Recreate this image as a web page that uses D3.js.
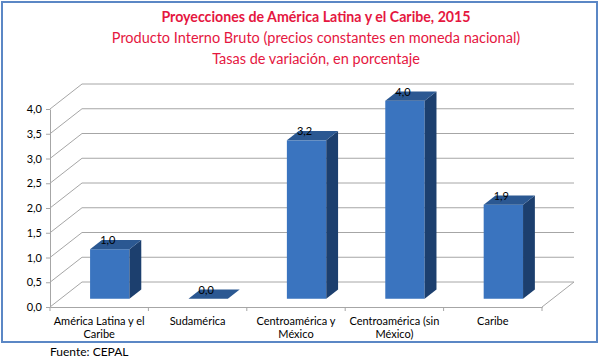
<!DOCTYPE html>
<html><head><meta charset="utf-8">
<script src="https://cdn.jsdelivr.net/npm/d3@7"></script>
<style>body{margin:0;background:#fff}svg{display:block}text{font-family:Lato,"Open Sans",sans-serif}</style>
</head><body>
<svg id="c" width="600" height="360"></svg>
<script>
const categories = [["América Latina y el","Caribe"],["Sudamérica"],["Centroamérica y","México"],["Centroamérica (sin","México)"],["Caribe"]];
const values = [1.0, 0.0, 3.2, 4.0, 1.9];
const yTicks = [0,0.5,1,1.5,2,2.5,3,3.5,4];
const titleLines = ["Proyecciones de América Latina y el Caribe, 2015","Producto Interno Bruto (precios constantes en moneda nacional)","Tasas de variación, en porcentaje"];
const source = "Fuente: CEPAL";

const svg = d3.select("#c");
const fmt = v => d3.format(".1f")(v).replace(".", ",");
const x = d3.scaleBand().domain(d3.range(values.length)).range([50,542]);
const y = d3.scaleLinear().domain([0,4]).range([307,109]);
const D = [32,-25];
const f0 = 0.33, f1 = 0.70;
const grid = "#a6a6a6";

svg.append("rect").attr("x",2).attr("y",2).attr("width",595).attr("height",340)
  .attr("fill","#fff").attr("stroke","#5b87c5").attr("stroke-width",2);

// titles
const tt = [{s:14.2,w:"bold",y:22},{s:14.5,w:"normal",y:43},{s:14.5,w:"normal",y:64}];
titleLines.forEach((t,i)=>{
  svg.append("text").attr("x",316).attr("y",tt[i].y).attr("text-anchor","middle")
    .attr("font-size",tt[i].s).attr("font-weight",tt[i].w).attr("fill","#e5173f").text(t);
});

// walls gridlines
const g = svg.append("g");
yTicks.forEach(t=>{
  g.append("line").attr("x1",50).attr("y1",y(t)).attr("x2",50+D[0]).attr("y2",y(t)+D[1]).attr("stroke",grid);
  g.append("line").attr("x1",50+D[0]).attr("y1",y(t)+D[1]).attr("x2",542+D[0]).attr("y2",y(t)+D[1]).attr("stroke",grid);
});
g.append("line").attr("x1",542).attr("y1",y(0)).attr("x2",542+D[0]).attr("y2",y(0)+D[1]).attr("stroke",grid);

// axes
const ya = svg.append("g").attr("transform","translate(50,0)")
  .call(d3.axisLeft(y).tickValues(yTicks).tickFormat(fmt).tickSize(4).tickSizeOuter(0));
ya.select(".domain").attr("stroke",grid);
ya.selectAll(".tick line").attr("stroke",grid);
ya.selectAll("text").attr("font-size",11).attr("fill","#000").attr("dx",-1);

const xa = svg.append("g").attr("transform",`translate(0,${y(0)})`)
  .call(d3.axisBottom(x).tickValues([]).tickSizeOuter(0));
xa.select(".domain").attr("stroke",grid);
d3.range(values.length+1).forEach(i=>{
  const xx = 50 + i*x.step();
  xa.append("line").attr("x1",xx).attr("x2",xx).attr("y1",0).attr("y2",4).attr("stroke",grid);
});
categories.forEach((c,i)=>{
  const t = svg.append("text").attr("x",x(i)+x.bandwidth()/2).attr("y",325).attr("text-anchor","middle")
    .attr("font-size",11).attr("fill","#000");
  c.forEach((l,j)=>t.append("tspan").attr("x",x(i)+x.bandwidth()/2).attr("dy",j?13:0).text(l));
});

// bars
const bw = x.bandwidth()*0.4;
const bars = svg.append("g");
values.forEach((v,i)=>{
  const cx = x(i)+x.bandwidth()/2;
  const xl = cx - bw/2 + f0*D[0], xr = xl + bw;
  const ddx = (f1-f0)*D[0], ddy = (f1-f0)*D[1];
  const yb = y(0)+f0*D[1], yt = y(v)+f0*D[1];
  if (v > 0) {
    bars.append("rect").attr("x",xl).attr("y",yt).attr("width",bw).attr("height",yb-yt).attr("fill","#3a74bf");
    bars.append("path").attr("d",`M${xr},${yt}L${xr+ddx},${yt+ddy}L${xr+ddx},${yb+ddy}L${xr},${yb}Z`).attr("fill","#1c3f6e");
  }
  bars.append("path").attr("d",`M${xl},${yt}L${xl+ddx},${yt+ddy}L${xr+ddx},${yt+ddy}L${xr},${yt}Z`).attr("fill","#2b5892");
  svg.append("text").attr("x",cx+f0*D[0]-2).attr("y",yt-5).attr("text-anchor","middle")
    .attr("font-size",11).attr("fill","#000").text(fmt(v));
});

svg.append("text").attr("x",50).attr("y",356).attr("font-size",12).attr("fill","#000").text(source);
</script>
</body></html>
